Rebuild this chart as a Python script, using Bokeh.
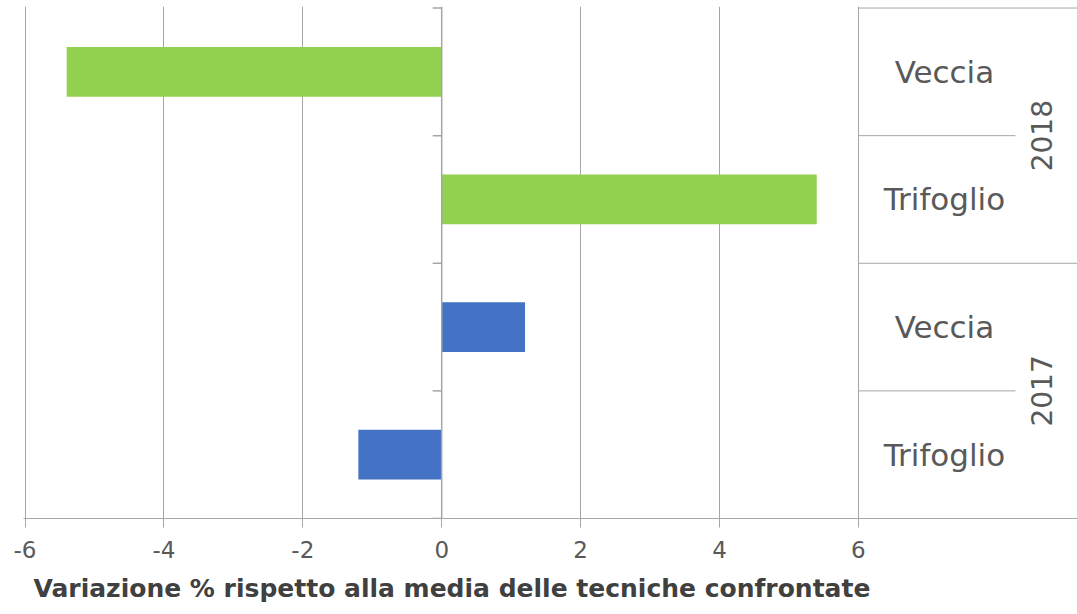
import math
from bokeh.plotting import figure
from bokeh.models import ColumnDataSource, FixedTicker, Span, Title
from bokeh.core.properties import value
from bokeh.embed import file_html
from bokeh.resources import INLINE

# Data (bottom to top)
years = ["2017", "2017", "2018", "2018"]
crops = ["Trifoglio", "Veccia", "Trifoglio", "Veccia"]
values = [-1.2, 1.2, 5.4, -5.4]
colors = ["#4472C4", "#4472C4", "#92D050", "#92D050"]
x_ticks = [-6, -4, -2, 0, 2, 4, 6]
x_tick_labels = ["-6", "-4", "-2", "0", "2", "4", "6"]
axis_title = "Variazione % rispetto alla media delle tecniche confrontate"

FONT = "DejaVu Sans"
GRID = "#A6A6A6"
TXT = "#595959"

n = len(crops)
ypos = [i + 0.5 for i in range(n)]
px_per_unit = (858 - 25) / 12.0
x_start = -6 - 1.5 / px_per_unit
x_end = 6 + (1077 - 858) / px_per_unit

p = figure(width=1077, height=614, output_backend="svg", toolbar_location=None,
           x_range=(x_start, x_end), y_range=(0, n + 0.012),
           min_border_left=23, min_border_right=0, min_border_top=6, min_border_bottom=96)
p.outline_line_color = None
p.background_fill_color = "white"

src = ColumnDataSource(dict(y=ypos, v=values, c=colors, crop=crops))
p.hbar(y="y", right="v", left=0, height=0.39, color="c", source=src, line_color=None)

# axes
p.yaxis.visible = False
p.ygrid.visible = False
p.xaxis.ticker = FixedTicker(ticks=x_ticks)
p.xaxis.major_label_overrides = {t: s for t, s in zip(x_ticks, x_tick_labels)}
p.xgrid.ticker = FixedTicker(ticks=[t for t in x_ticks if t != 0])
p.xgrid.grid_line_color = GRID
p.xgrid.grid_line_width = 1
p.xaxis.axis_line_color = GRID
p.xaxis.major_tick_line_color = GRID
p.xaxis.major_tick_out = 9
p.xaxis.major_tick_in = 0
p.xaxis.minor_tick_line_color = None
p.xaxis.major_label_text_font = FONT
p.xaxis.major_label_text_font_size = "23px"
p.xaxis.major_label_text_color = TXT
p.xaxis.major_label_standoff = 13

# vertical axis at zero with outward ticks at category boundaries
p.add_layout(Span(location=0, dimension="height", line_color=GRID, line_width=1.5))
bounds = list(range(n + 1))
p.segment(x0=[-9 / px_per_unit] * len(bounds), x1=[0] * len(bounds), y0=bounds, y1=bounds,
          line_color=GRID, line_width=1.5)

# category table on the right
inner = [b for b in bounds if b % 2 == 1]
outer = [b for b in bounds if b % 2 == 0 and b > 0]
p.segment(x0=[6] * len(inner), x1=[6 + 157 / px_per_unit] * len(inner), y0=inner, y1=inner,
          line_color=GRID, line_width=1)
p.segment(x0=[6] * len(outer), x1=[x_end] * len(outer), y0=outer, y1=outer,
          line_color=GRID, line_width=1)

p.text(x=[6 + 86 / px_per_unit] * n, y=ypos, text=crops, text_align="center",
       text_baseline="middle", text_font=value(FONT), text_font_size="31px", text_color=TXT)

year_names = ["2017", "2018"]
year_y = [1, 3]
p.text(x=[6 + 183 / px_per_unit] * 2, y=year_y, text=year_names, angle=math.pi / 2,
       text_align="center", text_baseline="middle", text_font=value(FONT),
       text_font_size="28px", text_color=TXT)

# axis title
p.add_layout(Title(text=axis_title, align="left", offset=10, standoff=23,
                   text_font=FONT, text_font_size="25px", text_font_style="bold",
                   text_color="#404040"), "below")

open("out.html", "w").write(file_html(p, INLINE))
